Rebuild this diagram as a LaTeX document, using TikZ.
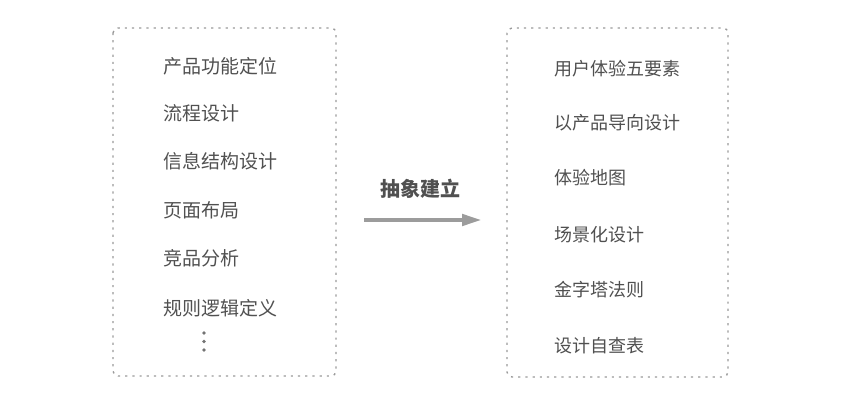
\documentclass[tikz,border=0pt]{standalone}
\usepackage{fontspec}
\newfontfamily\cjk{Noto Sans CJK SC}
\usetikzlibrary{arrows.meta}
\definecolor{txt}{HTML}{505050}
\definecolor{border}{HTML}{9A9A9A}
\definecolor{arrowc}{HTML}{9C9C9C}
\begin{document}
\begin{tikzpicture}[x=1pt,y=-1pt,
  frame/.style={draw=border,line width=1.4pt,dash pattern=on 2.2pt off 5pt,rounded corners=5pt},
  ltxt/.style={anchor=base west,inner sep=0pt,text=txt,font=\cjk\fontsize{19}{19}\selectfont},
  rtxt/.style={anchor=base west,inner sep=0pt,text=txt,font=\cjk\fontsize{18}{18}\selectfont},
  dotc/.style={circle,fill=txt!80,inner sep=0pt,minimum size=3.6pt}]
\useasboundingbox (0,0) rectangle (850,406);
\draw[frame] (113,28) rectangle (336,376);
\draw[frame] (507,28) rectangle (728,377);
% left column
\node[ltxt] (l1) at (163,73.7) {产品功能定位};
\node[ltxt] (l2) at (163,121.0) {流程设计};
\node[ltxt] (l3) at (163,168.8) {信息结构设计};
\node[ltxt] (l4) at (163,217.2) {页面布局};
\node[ltxt] (l5) at (163,265.7) {竞品分析};
\node[ltxt] (l6) at (163,315.2) {规则逻辑定义};
\node[dotc] (d1) at (204,333) {};
\node[dotc] (d2) at (204,341.5) {};
\node[dotc] (d3) at (204,350) {};
% right column
\node[rtxt] (r1) at (554,75.3) {用户体验五要素};
\node[rtxt] (r2) at (554,129.8) {以产品导向设计};
\node[rtxt] (r3) at (554,184.8) {体验地图};
\node[rtxt] (r4) at (554,241.3) {场景化设计};
\node[rtxt] (r5) at (554,296.3) {金字塔法则};
\node[rtxt] (r6) at (554,352.3) {设计自查表};
% arrow
\node[inner sep=0pt,text=txt,font=\cjk\bfseries\fontsize{20}{20}\selectfont] (t) at (420.5,189) {抽象建立};
\coordinate (a0) at (364,220);
\coordinate (a1) at (482,220);
\draw[arrowc,line width=4.4pt,-{Triangle[length=20pt,width=11pt]}] (a0) -- (a1);
\end{tikzpicture}
\end{document}
